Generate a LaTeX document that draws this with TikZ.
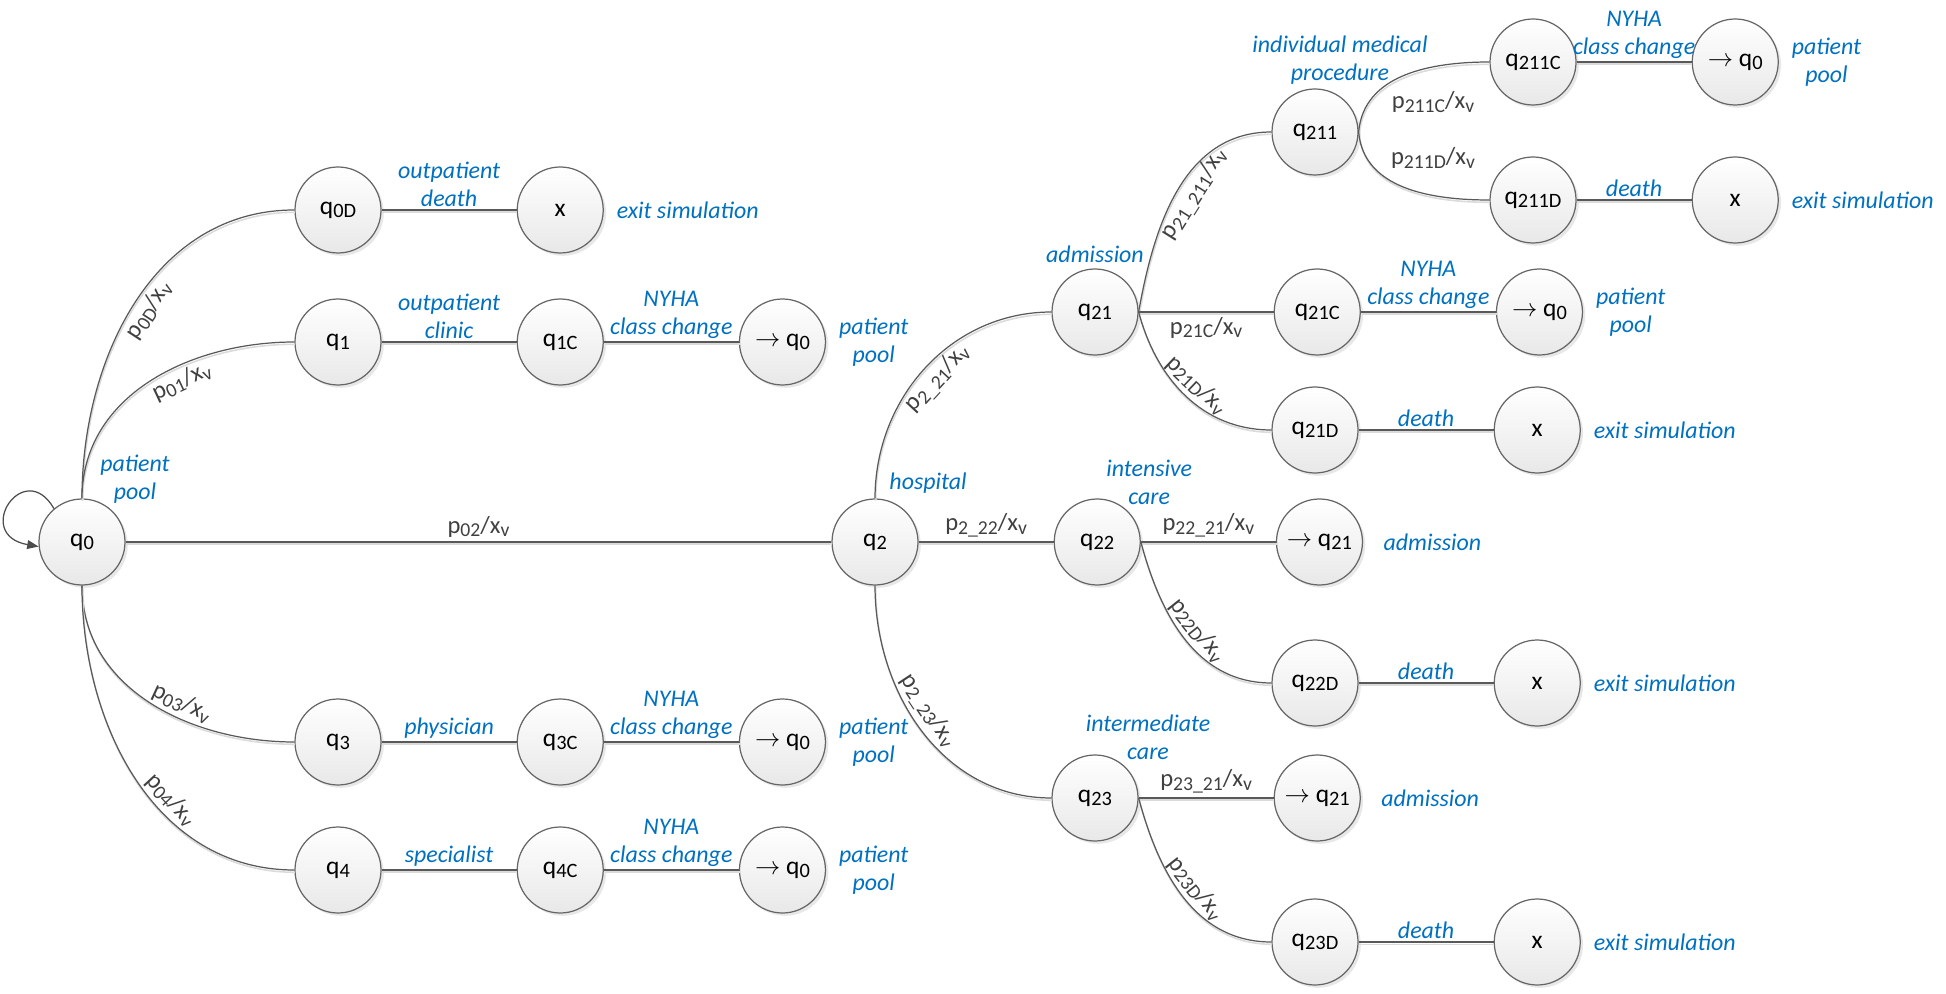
\documentclass[tikz,border=0pt]{standalone}
\usepackage{fontspec}
\setmainfont{Carlito}
\usepackage{tikz}
\usetikzlibrary{arrows.meta, positioning, shadows, calc}

\definecolor{noteblue}{RGB}{0,112,192}
\newcommand{\sbs}[1]{\raisebox{-0.3ex}{\scalebox{0.8}{#1}}}

\begin{document}
\begin{tikzpicture}[
    node distance=2.7cm,
    qstate/.style={circle, draw=black!60, line width=0.7pt, top color=white, bottom color=black!9, minimum size=1.72cm, inner sep=0pt, font=\fontsize{14.5}{16}\selectfont, drop shadow={shadow xshift=1.6pt, shadow yshift=-1.6pt, opacity=0.18}},
    conn/.style={draw=black!65, line width=0.7pt, preaction={draw=black!14, line width=0.9pt, transform canvas={shift={(0.4pt,-1.3pt)}}}},
    note/.style={text=noteblue, font=\fontsize{13.6}{16}\selectfont\itshape, align=center, inner sep=1.5pt},
    plabel/.style={text=black!75, font=\fontsize{14}{16}\selectfont, inner sep=2.5pt},
    loopline/.style={draw=black!70, line width=0.7pt, -{Triangle[length=6.5pt, width=5pt]}}
]
    \useasboundingbox (-1.64,-9.02) rectangle (37.28,10.84);

    % Patient pool and outpatient states
    \node[qstate] (q0) at (0,0) {q\sbs{0}};
    \node[qstate] (q0D) at (5.12,6.64) {q\sbs{0D}};
    \node[qstate, right=of q0D] (x0D) {x};
    \node[qstate] (q1) at (5.12,4.0) {q\sbs{1}};
    \node[qstate, right=of q1] (q1C) {q\sbs{1C}};
    \node[qstate, right=of q1C] (r1) {$\rightarrow$ q\sbs{0}};
    \node[qstate] (q3) at (5.12,-4.0) {q\sbs{3}};
    \node[qstate, right=of q3] (q3C) {q\sbs{3C}};
    \node[qstate, right=of q3C] (r3) {$\rightarrow$ q\sbs{0}};
    \node[qstate] (q4) at (5.12,-6.56) {q\sbs{4}};
    \node[qstate, right=of q4] (q4C) {q\sbs{4C}};
    \node[qstate, right=of q4C] (r4) {$\rightarrow$ q\sbs{0}};

    % Hospital states
    \node[qstate] (q2) at (15.86,0) {q\sbs{2}};
    \node[qstate] (q21) at (20.26,4.6) {q\sbs{21}};
    \node[qstate, right=of q2] (q22) {q\sbs{22}};
    \node[qstate] (q23) at (20.26,-5.12) {q\sbs{23}};

    \node[qstate] (q211) at (24.66,8.2) {q\sbs{211}};
    \node[qstate] (q211C) at (29.02,9.6) {q\sbs{211C}};
    \node[qstate, right=2.3cm of q211C] (r211) {$\rightarrow$ q\sbs{0}};
    \node[qstate] (q211D) at (29.02,6.84) {q\sbs{211D}};
    \node[qstate, right=2.3cm of q211D] (x211D) {x};
    \node[qstate, right=of q21] (q21C) {q\sbs{21C}};
    \node[qstate, right=of q21C] (r21) {$\rightarrow$ q\sbs{0}};
    \node[qstate] (q21D) at (24.66,2.24) {q\sbs{21D}};
    \node[qstate, right=of q21D] (x21D) {x};
    \node[qstate, right=of q22] (r22) {$\rightarrow$ q\sbs{21}};
    \node[qstate] (q22D) at (24.66,-2.82) {q\sbs{22D}};
    \node[qstate, right=of q22D] (x22D) {x};
    \node[qstate, right=of q23] (r23) {$\rightarrow$ q\sbs{21}};
    \node[qstate] (q23D) at (24.66,-8.0) {q\sbs{23D}};
    \node[qstate, right=of q23D] (x23D) {x};

    % Self loop
    \draw[loopline] (q0.130) .. controls +(120:1.2) and +(170:1.35) .. (q0.186);

    % Outpatient connectors
    \draw[conn] (q0.north) to[out=90, in=180] node[plabel, pos=0.5, sloped, below] (l0D) {p\sbs{0D}/x\sbs{v}} (q0D.west);
    \draw[conn] (q0.north) to[out=90, in=180] node[plabel, pos=0.6, sloped, below] (l01) {p\sbs{01}/x\sbs{v}} (q1.west);
    \draw[conn] (q0.south) to[out=-90, in=180] node[plabel, pos=0.6, sloped, above] (l03) {p\sbs{03}/x\sbs{v}} (q3.west);
    \draw[conn] (q0.south) to[out=-90, in=180] node[plabel, pos=0.6, sloped, above] (l04) {p\sbs{04}/x\sbs{v}} (q4.west);
    \draw[conn] (q0) -- node[plabel, above] (l02) {p\sbs{02}/x\sbs{v}} (q2);

    \draw[conn] (q0D) -- node[note, above] (t0D) {outpatient\\death} (x0D);
    \draw[conn] (q1) -- node[note, above] (t1) {outpatient\\clinic} (q1C);
    \draw[conn] (q1C) -- node[note, above] (t1C) {NYHA\\class change} (r1);
    \draw[conn] (q3) -- node[note, above] (t3) {physician} (q3C);
    \draw[conn] (q3C) -- node[note, above] (t3C) {NYHA\\class change} (r3);
    \draw[conn] (q4) -- node[note, above] (t4) {specialist} (q4C);
    \draw[conn] (q4C) -- node[note, above] (t4C) {NYHA\\class change} (r4);

    % Hospital connectors
    \draw[conn] (q2.north) to[out=90, in=180] node[plabel, pos=0.5, sloped, below] (l221) {p\sbs{2\_21}/x\sbs{v}} (q21.west);
    \draw[conn] (q2) -- node[plabel, above] (l222) {p\sbs{2\_22}/x\sbs{v}} (q22);
    \draw[conn] (q2.south) to[out=-90, in=180] node[plabel, pos=0.45, sloped, above] (l223) {p\sbs{2\_23}/x\sbs{v}} (q23.west);

    \draw[conn] (q21.east) to[out=80, in=180] node[plabel, pos=0.52, sloped, below] (l21211) {p\sbs{21\_211}/x\sbs{v}} (q211.west);
    \draw[conn] (q21) -- node[plabel, below] (l21C) {p\sbs{21C}/x\sbs{v}} (q21C);
    \draw[conn] (q21.east) to[out=-75, in=180] node[plabel, pos=0.5, sloped, above] (l21D) {p\sbs{21D}/x\sbs{v}} (q21D.west);
    \draw[conn] (q211.east) to[out=85, in=180] (q211C.west);
    \draw[conn] (q211.east) to[out=-85, in=180] (q211D.west);
    \node[plabel] (l211C) at ([shift={(2.36,0.6)}]q211) {p\sbs{211C}/x\sbs{v}};
    \node[plabel] (l211D) at ([shift={(2.36,-0.52)}]q211) {p\sbs{211D}/x\sbs{v}};

    \draw[conn] (q22) -- node[plabel, above] (l2221) {p\sbs{22\_21}/x\sbs{v}} (r22);
    \draw[conn] (q22.east) to[out=-75, in=180] node[plabel, pos=0.5, sloped, above] (l22D) {p\sbs{22D}/x\sbs{v}} (q22D.west);
    \draw[conn] (q23) -- node[plabel, above] (l2321) {p\sbs{23\_21}/x\sbs{v}} (r23);
    \draw[conn] (q23.east) to[out=-75, in=180] node[plabel, pos=0.5, sloped, above] (l23D) {p\sbs{23D}/x\sbs{v}} (q23D.west);

    \draw[conn] (q211C) -- node[note, above] (t211C) {NYHA\\class change} (r211);
    \draw[conn] (q211D) -- node[note, above] (t211D) {death} (x211D);
    \draw[conn] (q21C) -- node[note, above] (t21C) {NYHA\\class change} (r21);
    \draw[conn] (q21D) -- node[note, above] (t21D) {death} (x21D);
    \draw[conn] (q22D) -- node[note, above] (t22D) {death} (x22D);
    \draw[conn] (q23D) -- node[note, above] (t23D) {death} (x23D);

    % Blue notes beside the states
    \node[note] (n0) at ([shift={(1.06,1.26)}]q0) {patient\\pool};
    \node[note, right=0.2cm of x0D] (n0D) {exit simulation};
    \node[note, right=0.2cm of r1] (n1) {patient\\pool};
    \node[note, right=0.2cm of r3] (n3) {patient\\pool};
    \node[note, right=0.2cm of r4] (n4) {patient\\pool};
    \node[note] (n2) at ([shift={(1.06,1.18)}]q2) {hospital};
    \node[note, above=0.05cm of q21] (n21) {admission};
    \node[note, above=0.02cm of q211, xshift=0.5cm] (n211) {individual medical\\procedure};
    \node[note, right=0.2cm of r211] (n211C) {patient\\pool};
    \node[note, right=0.2cm of x211D] (n211D) {exit simulation};
    \node[note, right=0.2cm of r21] (n21C) {patient\\pool};
    \node[note, right=0.2cm of x21D] (n21D) {exit simulation};
    \node[note] (n22) at ([shift={(1.04,1.2)}]q22) {intensive\\care};
    \node[note, right=0.35cm of r22] (n2221) {admission};
    \node[note, right=0.2cm of x22D] (n22D) {exit simulation};
    \node[note] (n23) at ([shift={(1.06,1.22)}]q23) {intermediate\\care};
    \node[note, right=0.35cm of r23] (n2321) {admission};
    \node[note, right=0.2cm of x23D] (n23D) {exit simulation};
\end{tikzpicture}
\end{document}
